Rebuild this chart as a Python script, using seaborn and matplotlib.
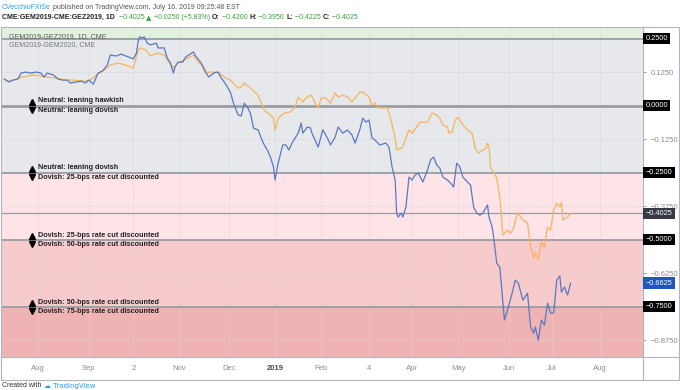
import pandas as pd
import matplotlib.pyplot as plt
import matplotlib.transforms as mtransforms
from matplotlib.lines import Line2D
import seaborn as sns

start = pd.Timestamp('2018-07-08')

# GEM2019-GEZ2019 (blue): days after start, spread value
blue_days = [2, 5, 8, 11, 13, 16, 19, 23, 26, 28, 30, 34, 37, 40, 43, 45, 49, 52, 55, 57,
             60, 63, 66, 69, 71, 75, 78, 81, 83, 86, 88, 89, 90, 92, 93, 95, 97, 101, 102, 106,
             108, 110, 112, 113, 115, 118, 120, 125, 126, 130, 132, 135, 138, 141, 143, 145, 147, 149, 151, 154,
             156, 158, 160, 162, 164, 167, 169, 171, 173, 175, 177, 178, 180, 183, 185, 187, 189, 193, 195, 196,
             199, 201, 202, 206, 209, 212, 214, 217, 219, 222, 225, 228, 230, 233, 235, 237, 239, 241, 243, 246,
             250, 252, 254, 256, 257, 258, 260, 261, 263, 265, 267, 269, 271, 274, 277, 279, 281, 283, 285, 287,
             290, 292, 294, 296, 298, 300, 303, 305, 307, 309, 311, 313, 316, 317, 319, 320, 322, 324, 326, 327,
             329, 332, 334, 336, 339, 342, 344, 346, 347, 349, 351, 353, 355, 357, 359, 361, 363, 364, 366, 368,
             370]
blue_vals = [0.099, 0.088, 0.095, 0.099, 0.121, 0.125, 0.121, 0.125, 0.121, 0.106, 0.121, 0.114, 0.099, 0.095, 0.095, 0.084, 0.088, 0.091, 0.084, 0.095,
             0.080, 0.121, 0.129, 0.151, 0.188, 0.185, 0.192, 0.185, 0.181, 0.174, 0.196, 0.237, 0.256, 0.252, 0.256, 0.233, 0.226, 0.233, 0.215, 0.215,
             0.177, 0.159, 0.121, 0.144, 0.162, 0.162, 0.181, 0.200, 0.188, 0.159, 0.132, 0.106, 0.121, 0.125, 0.103, 0.088, 0.069, 0.050, 0.009, -0.035,
             -0.039, 0.009, -0.006, -0.028, -0.084, -0.091, -0.121, -0.147, -0.166, -0.192, -0.229, -0.278, -0.215, -0.147, -0.147, -0.166, -0.140, -0.103, -0.065, -0.103,
             -0.080, -0.084, -0.103, -0.155, -0.091, -0.121, -0.147, -0.118, -0.080, -0.103, -0.091, -0.110, -0.140, -0.091, -0.047, -0.062, -0.054, -0.121, -0.129, -0.147,
             -0.140, -0.155, -0.229, -0.278, -0.401, -0.416, -0.401, -0.416, -0.379, -0.267, -0.278, -0.259, -0.252, -0.285, -0.241, -0.203, -0.192, -0.222, -0.233, -0.267,
             -0.278, -0.289, -0.304, -0.215, -0.229, -0.267, -0.285, -0.297, -0.379, -0.401, -0.409, -0.401, -0.371, -0.416, -0.453, -0.491, -0.588, -0.603, -0.737, -0.800,
             -0.763, -0.700, -0.651, -0.662, -0.726, -0.700, -0.826, -0.849, -0.826, -0.875, -0.800, -0.819, -0.737, -0.774, -0.774, -0.651, -0.636, -0.696, -0.677, -0.707,
             -0.6625]

# GEM2019-GEM2020 (orange)
orange_days = [2, 5, 10, 13, 18, 21, 26, 30, 36, 41, 47, 54, 58, 63, 67, 71, 76, 81, 86, 89,
               91, 94, 97, 102, 106, 109, 112, 115, 119, 125, 128, 132, 134, 136, 141, 145, 149, 154, 156, 158,
               162, 167, 171, 175, 177, 178, 180, 184, 188, 191, 193, 196, 198, 201, 202, 206, 208, 211, 214, 217,
               219, 222, 225, 228, 230, 233, 235, 239, 241, 243, 245, 248, 251, 253, 256, 257, 261, 263, 265, 267,
               270, 272, 277, 280, 283, 285, 287, 290, 291, 293, 295, 297, 300, 303, 306, 308, 310, 313, 315, 316,
               317, 318, 320, 322, 324, 326, 329, 331, 333, 335, 336, 339, 342, 344, 346, 347, 349, 351, 353, 355,
               357, 359, 361, 363, 364, 365, 368, 370]
orange_vals = [0.099, 0.091, 0.099, 0.106, 0.110, 0.114, 0.110, 0.106, 0.103, 0.095, 0.095, 0.091, 0.095, 0.118, 0.132, 0.151, 0.159, 0.151, 0.140, 0.207,
               0.215, 0.207, 0.185, 0.196, 0.188, 0.162, 0.140, 0.159, 0.170, 0.188, 0.162, 0.144, 0.121, 0.125, 0.125, 0.106, 0.095, 0.065, 0.069, 0.084,
               0.065, 0.039, -0.017, -0.035, -0.047, -0.091, -0.047, -0.028, -0.024, -0.006, 0.032, 0.013, 0.028, 0.039, 0.032, -0.009, 0.028, 0.028, 0.009, 0.047,
               0.032, 0.039, 0.032, 0.013, 0.028, 0.050, 0.050, 0.032, 0.002, 0.009, -0.009, -0.009, -0.009, -0.047, -0.121, -0.166, -0.155, -0.121, -0.091, -0.103,
               -0.080, -0.062, -0.062, -0.028, -0.035, -0.047, -0.073, -0.080, -0.103, -0.099, -0.054, -0.043, -0.073, -0.091, -0.103, -0.159, -0.177, -0.166, -0.159, -0.140,
               -0.155, -0.233, -0.250, -0.271, -0.341, -0.483, -0.465, -0.476, -0.457, -0.409, -0.401, -0.427, -0.438, -0.528, -0.569, -0.550, -0.576, -0.509, -0.528, -0.453,
               -0.465, -0.390, -0.364, -0.379, -0.361, -0.427, -0.416, -0.4025]

tick_dates = ['2018-08-01', '2018-09-03', '2018-10-02', '2018-11-01', '2018-12-03', '2019-01-02', '2019-02-01',
              '2019-03-04', '2019-04-01', '2019-05-01', '2019-06-03', '2019-07-01', '2019-08-01']
tick_labels = ['Aug', 'Sep', '2', 'Nov', 'Dec', '2019', 'Feb', '4', 'Apr', 'May', 'Jun', 'Jul', 'Aug']
price_ticks = [0.125, -0.125, -0.375, -0.625, -0.875]
price_labels = ['0.1250', '\u22120.1250', '\u22120.3750', '\u22120.6250', '\u22120.8750']
levels = [0.25, 0.0, -0.25, -0.5, -0.75]
level_labels = ['0.2500', '0.0000', '\u22120.2500', '\u22120.5000', '\u22120.7500']
note_levels = [0.0, -0.25, -0.5, -0.75]
note_above = ['Neutral: leaning hawkish', 'Neutral: leaning dovish',
              'Dovish: 25-bps rate cut discounted', 'Dovish: 50-bps rate cut discounted']
note_below = ['Neutral: leaning dovish', 'Dovish: 25-bps rate cut discounted',
              'Dovish: 50-bps rate cut discounted', 'Dovish: 75-bps rate cut discounted']

sns.set_style('white')
plt.rcParams['font.family'] = ['Liberation Sans', 'DejaVu Sans']

blue = pd.DataFrame({'date': start + pd.to_timedelta(blue_days, unit='D'), 'value': blue_vals})
orange = pd.DataFrame({'date': start + pd.to_timedelta(orange_days, unit='D'), 'value': orange_vals})

ymin, ymax = -0.938, 0.293
fig = plt.figure(figsize=(6.8, 3.9), dpi=100)
ax = fig.add_axes([1 / 680, 1 - 357 / 390, 642 / 680, 330 / 390])

# background zones
ax.axhspan(0.25, ymax, color='#e1f1dd', lw=0)
ax.axhspan(-0.25, 0.25, color='#e6e8ec', lw=0)
ax.axhspan(-0.5, -0.25, color='#fee4e7', lw=0)
ax.axhspan(-0.75, -0.5, color='#f7cacc', lw=0)
ax.axhspan(ymin, -0.75, color='#f0b3b4', lw=0)

for d in tick_dates:
    ax.axvline(pd.Timestamp(d), color='#d3d6dc', lw=0.6, alpha=0.5, zorder=1)
for p in price_ticks:
    ax.axhline(p, color='#d3d6dc', lw=0.6, alpha=0.5, zorder=1)

for lv in levels:
    ax.axhline(lv, color='#9b9ca3', lw=2.0 if lv == 0 else 1.3, zorder=2)
ax.axhline(-0.4025, color='#9b9ca3', lw=0.9, zorder=2)

sns.lineplot(data=orange, x='date', y='value', color='#f6b45c', lw=0.9, ax=ax, zorder=3)
sns.lineplot(data=blue, x='date', y='value', color='#5a78c2', lw=0.9, ax=ax, zorder=4)

ax.set_xlim(start, start + pd.Timedelta(days=417))
ax.set_ylim(ymin, ymax)
ax.set_xlabel('')
ax.set_ylabel('')
ax.set_xticks(pd.to_datetime(tick_dates))
ax.set_xticklabels(tick_labels)
ax.yaxis.tick_right()
ax.set_yticks(price_ticks)
ax.set_yticklabels(price_labels)
ax.tick_params(axis='both', labelsize=5.5, colors='#8a8d95', length=2.5, width=0.6, pad=3)
for lab in ax.get_xticklabels():
    if lab.get_text() == '2019':
        lab.set_fontweight('bold')
        lab.set_color('#4a4a4a')
for s in ax.spines.values():
    s.set_color('#b2b5be')
    s.set_linewidth(0.8)

# level notes with arrows
blend = mtransforms.blended_transform_factory(ax.transAxes, ax.transData)
for lv, up, dn in zip(note_levels, note_above, note_below):
    ax.plot([31 / 642], [lv + 0.014], marker='^', ms=4.8, color='black', transform=blend, clip_on=False, zorder=6)
    ax.plot([31 / 642], [lv - 0.016], marker='v', ms=4.8, color='black', transform=blend, clip_on=False, zorder=6)
    ax.text(37 / 642, lv + 0.004, up, transform=blend, fontsize=5.2, fontweight='bold',
            color='#222222', va='bottom', ha='left', zorder=6)
    ax.text(37 / 642, lv - 0.006, dn, transform=blend, fontsize=5.2, fontweight='bold',
            color='#222222', va='top', ha='left', zorder=6)

# price boxes on the right scale
for lv, lab in zip(levels, level_labels):
    ax.text(1.004, lv, lab, transform=blend, fontsize=5.3, color='white', va='center', ha='left',
            bbox=dict(boxstyle='square,pad=0.3', fc='black', ec='none'), clip_on=False)
ax.text(1.004, -0.4025, '\u22120.4025', transform=blend, fontsize=5.3, color='white', va='center', ha='left',
        bbox=dict(boxstyle='square,pad=0.3', fc='#363a45', ec='none'), clip_on=False)
ax.text(1.004, -0.6625, '\u22120.6625', transform=blend, fontsize=5.3, color='white', va='center', ha='left',
        bbox=dict(boxstyle='square,pad=0.3', fc='#1f55c3', ec='none'), clip_on=False)

# legend text inside pane
ax.text(8 / 642, 1 - 6 / 330, 'GEM2019-GEZ2019, 1D, CME', transform=ax.transAxes, fontsize=5,
        color='#555555', va='top')
ax.text(8 / 642, 1 - 14 / 330, 'GEM2019-GEM2020, CME', transform=ax.transAxes, fontsize=5,
        color='#777777', va='top')

# outer frame: price scale and time scale
fc = '#b2b5be'
for xs, ys in [([1, 679], [380, 380]), ([679, 679], [27, 380]), ([1, 1], [357, 380]),
               ([643, 643], [357, 380]), ([643, 679], [27, 27]), ([643, 679], [357, 357])]:
    fig.add_artist(Line2D([x / 680 for x in xs], [1 - y / 390 for y in ys], color=fc, lw=0.8))

# header
t = fig.text(2 / 680, 1 - 9 / 390, 'CVecchioFXiSe', fontsize=5, color='#2a9df4')
ax.annotate(' published on TradingView.com, July 16, 2019 09:25:48 EST', xy=(1, 0), xycoords=t,
            fontsize=5, color='#555555', va='bottom', ha='left', annotation_clip=False)
parts = [('CME:GEM2019-CME:GEZ2019, 1D  ', '#222222', 'bold'), ('\u22120.4025 ', '#3ca33c', 'normal'),
         ('\u25b2', '#3ca33c', 'normal'), (' +0.0250 (+5.83%) ', '#3ca33c', 'normal'),
         ('O:', '#222222', 'bold'), (' \u22120.4200 ', '#3ca33c', 'normal'),
         ('H:', '#222222', 'bold'), (' \u22120.3950 ', '#3ca33c', 'normal'),
         ('L:', '#222222', 'bold'), (' \u22120.4225 ', '#3ca33c', 'normal'),
         ('C:', '#222222', 'bold'), (' \u22120.4025', '#3ca33c', 'normal')]
prev = fig.text(2 / 680, 1 - 19 / 390, parts[0][0], fontsize=5, color=parts[0][1], fontweight=parts[0][2])
for s, c, w in parts[1:]:
    prev = ax.annotate(s, xy=(1, 0), xycoords=prev, fontsize=5, color=c, fontweight=w,
                       va='bottom', ha='left', annotation_clip=False,
                       family=['DejaVu Sans'] if s == '\u25b2' else None)

# footer
ft = fig.text(2 / 680, 1 - 387 / 390, 'Created with ', fontsize=5, color='#333333')
ax.annotate('\u2601 TradingView', xy=(1, 0), xycoords=ft, fontsize=5, color='#2a9df4',
            va='bottom', ha='left', annotation_clip=False, family=['DejaVu Sans'])

fig.savefig('out.png', dpi=100)
